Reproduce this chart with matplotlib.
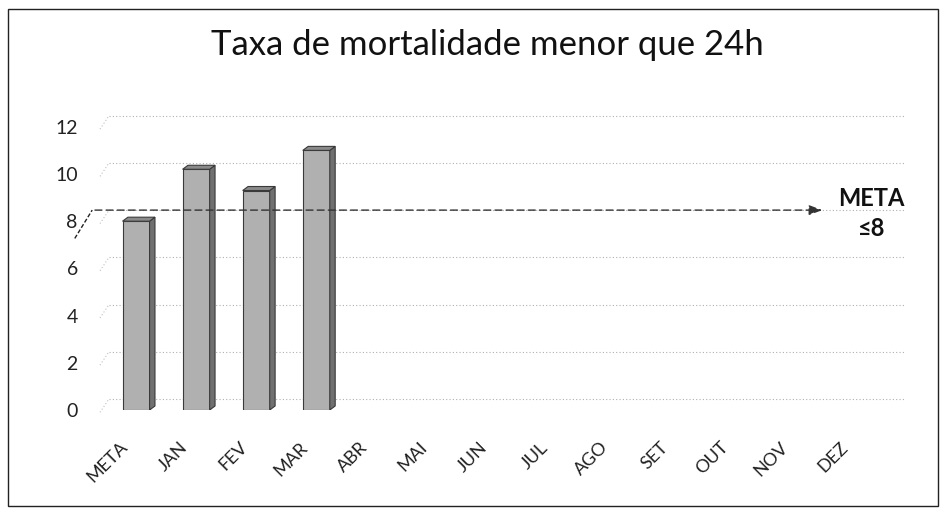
import matplotlib.pyplot as plt
from matplotlib.patches import Polygon, Rectangle
from matplotlib.transforms import ScaledTranslation

plt.rcParams['font.family'] = ['Lato', 'DejaVu Sans']

categories = ["META", "JAN", "FEV", "MAR", "ABR", "MAI", "JUN", "JUL", "AGO", "SET", "OUT", "NOV", "DEZ"]
values = [8.0, 10.2, 9.3, 11.0]
meta_value = 8
y_ticks = [0, 2, 4, 6, 8, 10, 12]

fig = plt.figure(figsize=(9.46, 5.14), dpi=100)
ax = fig.add_axes([100 / 946, 104 / 514, 805 / 946, 295 / 514])
ax.set_xlim(-0.6, 12.8)
ax.set_ylim(0, 12.5)

# back wall offset (fake 3d depth)
wall_dx, wall_dy = 0.15, 0.47
for t in y_ticks:
    ax.plot([-0.6 + wall_dx, 12.8], [t + wall_dy, t + wall_dy], color="#b0b0b0",
            linestyle=(0, (1, 2)), linewidth=0.8, zorder=1)
    ax.plot([-0.6, -0.6 + wall_dx], [t - 0.1, t + wall_dy], color="#c0c0c0",
            linestyle=(0, (1, 2)), linewidth=0.8, zorder=1, clip_on=False)

# 3d-ish bars
bw = 0.45
side_dx, side_dy = 0.09, 0.17
for i, v in enumerate(values):
    x0 = i - bw / 2
    ax.add_patch(Rectangle((x0, 0), bw, v, facecolor="#b0b0b0", edgecolor="#3a3a3a",
                           linewidth=0.8, zorder=3))
    ax.add_patch(Polygon([(x0 + bw, 0), (x0 + bw + side_dx, side_dy), (x0 + bw + side_dx, v + side_dy),
                          (x0 + bw, v)], facecolor="#707070", edgecolor="#3a3a3a", linewidth=0.8, zorder=3))
    ax.add_patch(Polygon([(x0, v), (x0 + side_dx, v + side_dy), (x0 + bw + side_dx, v + side_dy),
                          (x0 + bw, v)], facecolor="#8a8a8a", edgecolor="#3a3a3a", linewidth=0.8, zorder=3))

# meta dashed line with arrow
meta_y = meta_value + wall_dy
ax.plot([-1.02, -0.73], [meta_y - 1.2, meta_y], color="#222222", linestyle=(0, (3, 1.5)),
        linewidth=1.0, clip_on=False, zorder=4)
ax.annotate("", xy=(11.47, meta_y), xytext=(-0.73, meta_y),
            arrowprops=dict(arrowstyle="-|>,head_length=0.8,head_width=0.3", color="#333333",
                            linestyle=(0, (5, 3)), linewidth=1.0, facecolor="#888888"),
            zorder=4, annotation_clip=False)
ax.text(12.24, meta_y - 0.15, "META\n≤8", ha="center", va="center", fontsize=17, fontweight="bold",
        linespacing=1.4, color="#111111")

ax.set_xticks(range(len(categories)))
ax.set_xticklabels(categories, rotation=45, ha="right", rotation_mode="anchor", fontsize=13, color="#222222")
ax.set_yticks(y_ticks)
ax.set_yticklabels([str(t) for t in y_ticks], fontsize=14, color="#222222")
ax.tick_params(length=0, pad=16)
ax.tick_params(axis="x", pad=8)
shift = ScaledTranslation(-17 / 100, -18 / 100, fig.dpi_scale_trans)
for lbl in ax.get_xticklabels():
    lbl.set_transform(lbl.get_transform() + shift)
for s in ax.spines.values():
    s.set_visible(False)

fig.text(487 / 946, 1 - 45 / 514, "Taxa de mortalidade menor que 24h", ha="center", va="center", fontsize=25, color="#111111")

# border around chart
fig.patches.append(Rectangle((8 / 946, 8 / 514), 930 / 946, 497 / 514, transform=fig.transFigure,
                             fill=False, edgecolor="#222222", linewidth=1.0))

fig.savefig("out.png", dpi=100)
